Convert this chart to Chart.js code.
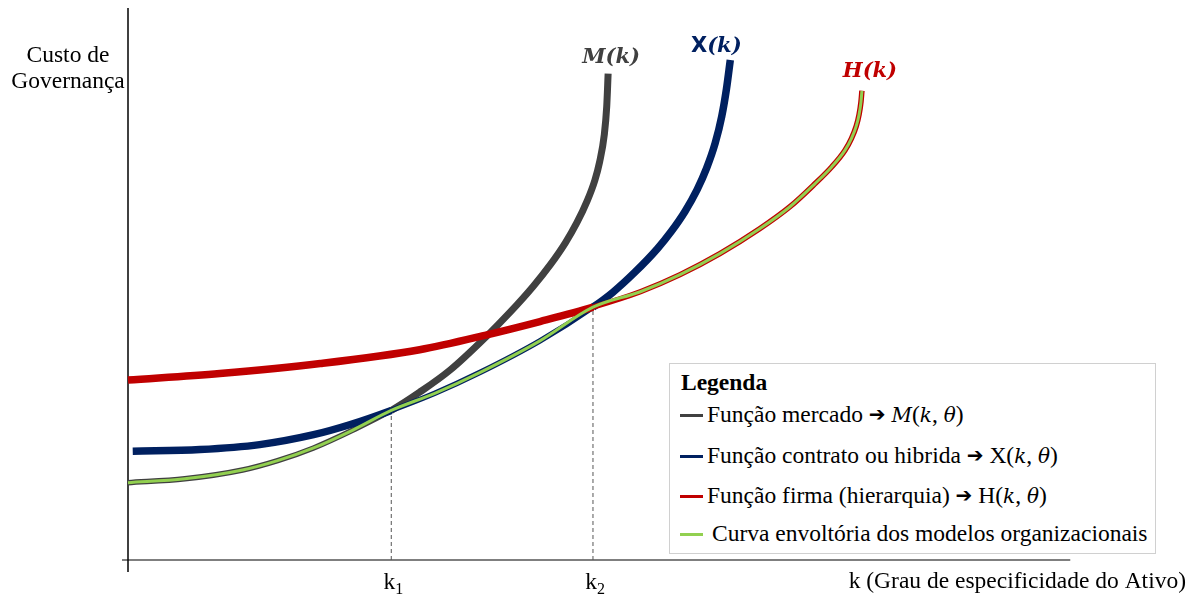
<!DOCTYPE html>
<html lang="pt">
<head>
<meta charset="UTF-8">
<title>Custo de Governança</title>
<script src="https://cdn.jsdelivr.net/npm/chart.js"></script>
<style>
    html, body { margin: 0; padding: 0; background: #fff; }
    .wrap { position: relative; width: 1197px; height: 595px; }
    #grafico { position: absolute; left: 0; top: 0; }
    .legenda {
        position: absolute; left: 669px; top: 363px; width: 487px; height: 191px;
        box-sizing: border-box; border: 1px solid #d0d0d0; background: #fff;
        font-family: "Liberation Serif", "Times New Roman", serif; font-size: 23.5px; color: #000;
    }
    .legenda .titulo { position: absolute; left: 11px; top: 5px; font-weight: bold; line-height: 26px; }
    .legenda .item { position: absolute; left: 10px; line-height: 26px; white-space: nowrap; }
    .legenda .traco { display: inline-block; width: 23px; height: 3px; vertical-align: middle; margin-right: 4px; position: relative; top: -1px; }
    .legenda .seta { font-family: "DejaVu Sans", sans-serif; font-size: 20px; font-weight: bold; position: relative; top: -1px; }
    .legenda i { font-family: "DejaVu Serif", serif; font-size: 20px; }
</style>
</head>
<body>
<div class="wrap">
    <canvas id="grafico" width="1197" height="595"></canvas>
    <div class="legenda" id="legenda"></div>
</div>

<script>
// valores (k = grau de especificidade, custo = custo de governança)
const kMercado = [0, 0.60, 1.21, 1.58, 1.96, 2.37, 2.78, 3.08, 3.40, 3.79, 4.03, 4.28, 4.46, 4.62, 4.74, 4.85, 4.93, 4.98, 5.03, 5.055, 5.07];
const custoMercado = [1.40, 1.47, 1.63, 1.80, 2.03, 2.35, 2.71, 3.04, 3.44, 4.06, 4.48, 4.96, 5.35, 5.75, 6.11, 6.51, 6.88, 7.21, 7.71, 8.21, 8.81];

const kContrato = [0.05, 0.76, 1.39, 1.96, 2.34, 2.78, 3.24, 3.72, 4.35, 4.91, 5.12, 5.35, 5.59, 5.74, 5.88, 6.01, 6.11, 6.20, 6.27, 6.32, 6.36];
const custoContrato = [1.97, 2.00, 2.09, 2.27, 2.45, 2.71, 3.02, 3.40, 3.97, 4.58, 4.85, 5.21, 5.64, 5.96, 6.31, 6.71, 7.10, 7.55, 8.04, 8.54, 9.06];

const kFirma = [0, 0.97, 2.03, 3.08, 3.79, 4.35, 4.91, 5.41, 5.83, 6.25, 6.67, 6.99, 7.25, 7.43, 7.57, 7.64, 7.69, 7.72, 7.74, 7.75];
const custoFirma = [3.26, 3.38, 3.56, 3.81, 4.08, 4.32, 4.58, 4.86, 5.17, 5.55, 6.00, 6.40, 6.81, 7.12, 7.42, 7.64, 7.86, 8.07, 8.30, 8.50];

const k1 = 2.78;
const k2 = 4.91;
const custoK1 = 2.71;
const custoK2 = 4.58;
const fimEixoX = 9.95;

const corMercado = '#404040';
const corContrato = '#002060';
const corFirma = '#C00000';
const corEnvoltoria = '#92D050';

const itensLegenda = [
    { cor: corMercado, texto: 'Função mercado', formula: '<i>M</i>(<i>k</i>, <i>θ</i>)' },
    { cor: corContrato, texto: 'Função contrato ou hibrida', formula: 'X(<i>k</i>, <i>θ</i>)' },
    { cor: corFirma, texto: 'Função firma (hierarquia)', formula: 'H(<i>k</i>, <i>θ</i>)' },
    { cor: corEnvoltoria, texto: 'Curva envoltória dos modelos organizacionais', formula: '' }
];

function pontos(ks, custos) {
    return ks.map((k, i) => ({ x: k, y: custos[i] }));
}

const envoltoria = [
    ...pontos(kMercado, custoMercado).filter(p => p.x <= k1),
    ...pontos(kContrato, custoContrato).filter(p => p.x > k1 && p.x <= k2),
    ...pontos(kFirma, custoFirma).filter(p => p.x > k2)
];

function textoMisto(ctx, partes, cx, base) {
    // partes: [texto, fonte]
    let total = 0;
    partes.forEach(p => { ctx.font = p[1]; total += ctx.measureText(p[0]).width; });
    let x = cx - total / 2;
    ctx.textAlign = 'left';
    partes.forEach(p => {
        ctx.font = p[1];
        ctx.fillText(p[0], x, base);
        x += ctx.measureText(p[0]).width;
    });
}

const serifa = '"Liberation Serif", "Times New Roman", serif';
const fonteRotulo = 'bold italic 21px "DejaVu Serif", serif';

const desenhos = {
    id: 'desenhos',
    beforeDatasetsDraw(chart) {
        const { ctx, scales: { x, y } } = chart;
        const x0 = x.getPixelForValue(0);
        const y0 = y.getPixelForValue(0);
        ctx.save();
        ctx.strokeStyle = '#7f7f7f';
        ctx.lineWidth = 2;
        ctx.beginPath();
        ctx.moveTo(x0 - 6, y0);
        ctx.lineTo(x.getPixelForValue(fimEixoX), y0);
        ctx.stroke();
        ctx.strokeStyle = '#000';
        ctx.lineWidth = 1.5;
        ctx.beginPath();
        ctx.moveTo(x0, y.getPixelForValue(10));
        ctx.lineTo(x0, y0 + 12);
        ctx.stroke();
        ctx.restore();
    },
    afterDraw(chart) {
        const { ctx, scales: { x, y } } = chart;
        ctx.save();
        ctx.fillStyle = '#000';
        ctx.textBaseline = 'alphabetic';

        // titulo do eixo y
        ctx.font = '23.5px ' + serifa;
        ctx.textAlign = 'center';
        ctx.fillText('Custo de', 68, 62);
        ctx.fillText('Governança', 68, 88);

        // titulo do eixo x
        ctx.textAlign = 'right';
        ctx.fillText('k (Grau de especificidade do Ativo)', 1186, 588);

        // k1 e k2
        [[k1, '1'], [k2, '2']].forEach(([k, n]) => {
            const px = x.getPixelForValue(k);
            ctx.font = '23.5px ' + serifa;
            ctx.textAlign = 'right';
            ctx.fillText('k', px + 4, 589);
            ctx.font = '16px ' + serifa;
            ctx.textAlign = 'left';
            ctx.fillText(n, px + 4, 594);
        });

        // rotulos das curvas
        const ultimo = (ks, cs) => ({ px: x.getPixelForValue(ks[ks.length - 1]), py: y.getPixelForValue(cs[cs.length - 1]) });
        const m = ultimo(kMercado, custoMercado);
        ctx.fillStyle = corMercado;
        textoMisto(ctx, [['M(k)', fonteRotulo]], m.px + 3, m.py - 11);
        const c = ultimo(kContrato, custoContrato);
        ctx.fillStyle = corContrato;
        textoMisto(ctx, [['X', 'bold 21px "DejaVu Sans", sans-serif'], ['(k)', fonteRotulo]], c.px - 14, c.py - 8);
        const f = ultimo(kFirma, custoFirma);
        ctx.fillStyle = corFirma;
        textoMisto(ctx, [['H(k)', fonteRotulo]], f.px + 8, f.py - 14);
        ctx.restore();
    }
};

const largura = (cond, fina, grossa) => ctx => (cond(ctx.p0.parsed.x, ctx.p1.parsed.x) ? fina : grossa);

const dashLinha = {
    borderColor: '#555',
    borderWidth: 1,
    borderDash: [4, 3],
    pointRadius: 0,
    cubicInterpolationMode: 'default',
    tension: 0,
    order: 5
};

new Chart(document.getElementById('grafico'), {
    type: 'line',
    data: {
        datasets: [
            {
                label: 'Curva envoltória dos modelos organizacionais',
                data: envoltoria,
                borderColor: corEnvoltoria,
                borderWidth: 3,
                order: 0
            },
            {
                label: 'Função mercado',
                data: pontos(kMercado, custoMercado),
                borderColor: corMercado,
                borderWidth: 7,
                segment: { borderWidth: largura((a, b) => b <= k1 + 0.001, 5.5, 7) },
                order: 3
            },
            {
                label: 'Função contrato ou hibrida',
                data: pontos(kContrato, custoContrato),
                borderColor: corContrato,
                borderWidth: 7,
                segment: { borderWidth: largura((a, b) => a >= k1 - 0.001 && b <= k2 + 0.001, 5.5, 7.5) },
                order: 2
            },
            {
                label: 'Função firma (hierarquia)',
                data: pontos(kFirma, custoFirma),
                borderColor: corFirma,
                borderWidth: 7,
                segment: { borderWidth: largura((a, b) => a >= k2 - 0.001, 5.5, 7.5) },
                order: 1
            },
            Object.assign({ label: 'k1', data: [{ x: k1, y: 0 }, { x: k1, y: custoK1 }] }, dashLinha),
            Object.assign({ label: 'k2', data: [{ x: k2, y: 0 }, { x: k2, y: custoK2 }] }, dashLinha)
        ]
    },
    options: {
        responsive: false,
        animation: false,
        layout: { padding: { left: 128, right: 122, top: 8, bottom: 35 } },
        elements: {
            point: { radius: 0 },
            line: { cubicInterpolationMode: 'monotone', borderJoinStyle: 'round', fill: false }
        },
        scales: {
            x: { type: 'linear', min: 0, max: 10, display: false },
            y: { min: 0, max: 10, display: false }
        },
        plugins: {
            legend: { display: false },
            tooltip: { enabled: false }
        },
        clip: false
    },
    plugins: [desenhos]
});

// legenda em HTML
const topos = [37, 78, 118, 156];
const legenda = document.getElementById('legenda');
legenda.innerHTML = '<div class="titulo">Legenda</div>' + itensLegenda.map((it, i) => {
    const seta = it.formula ? ' <span class="seta">➔</span> ' + it.formula : '';
    const recuo = i === 3 ? ' style="background:' + it.cor + ';margin-right:9px"' : ' style="background:' + it.cor + '"';
    return `<div class="item" style="top:${topos[i]}px"><span class="traco"${recuo}></span>${it.texto}${seta}</div>`;
}).join('');
</script>
</body>
</html>
